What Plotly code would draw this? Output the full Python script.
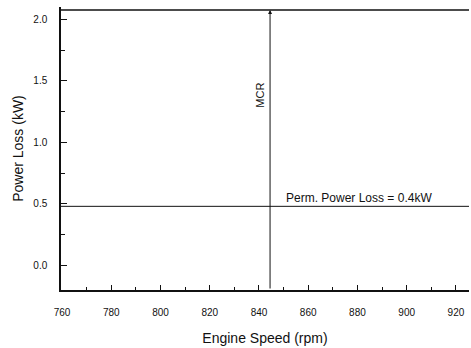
import plotly.graph_objects as go

# Data
speed_range = [759.6, 925.3]
power_range = [-0.2, 2.1]
x_ticks = [760, 780, 800, 820, 840, 860, 880, 900, 920]
y_ticks = [0.0, 0.5, 1.0, 1.5, 2.0]
y_tick_labels = ["0.0", "0.5", "1.0", "1.5", "2.0"]
perm_loss = 0.48
perm_label = "Perm. Power Loss = 0.4kW"
mcr_speed = 844.5
mcr_label = "MCR"
frame_top = 2.075

font = "Liberation Sans, Arial, sans-serif"
fig = go.Figure()
fig.add_trace(go.Scatter(x=speed_range, y=[perm_loss, perm_loss], mode="lines",
                         line=dict(color="#111", width=1), hoverinfo="skip", showlegend=False))
fig.add_trace(go.Scatter(x=speed_range, y=[frame_top, frame_top], mode="lines",
                         line=dict(color="#111", width=1.5), hoverinfo="skip", showlegend=False))

fig.add_annotation(x=mcr_speed, y=frame_top, ax=mcr_speed, ay=power_range[0],
                   xref="x", yref="y", axref="x", ayref="y", showarrow=True,
                   arrowhead=2, arrowsize=0.8, arrowwidth=1, arrowcolor="#111", text="")
fig.add_annotation(x=mcr_speed, y=1.38, xref="x", yref="y", text=mcr_label, showarrow=False,
                   textangle=-90, xanchor="right", xshift=-2, font=dict(size=11, color="#111", family=font))
fig.add_annotation(x=880.5, y=perm_loss, xref="x", yref="y", text=perm_label, showarrow=False,
                   yanchor="bottom", yshift=-1, font=dict(size=12, color="#111", family=font))

fig.update_layout(
    width=471, height=348, margin=dict(l=61, r=2, t=7, b=58),
    paper_bgcolor="white", plot_bgcolor="white",
    font=dict(family=font, color="#111"),
    xaxis=dict(range=speed_range, tickvals=x_ticks, ticks="inside", ticklen=5, tickcolor="#111",
               showline=True, linecolor="#111", linewidth=1.5, showgrid=False, zeroline=False,
               tickfont=dict(size=10), ticklabelstandoff=12,
               minor=dict(dtick=10, tick0=760, ticks="inside", ticklen=3, tickcolor="#111"),
               title=dict(text="Engine Speed (rpm)", font=dict(size=14), standoff=16)),
    yaxis=dict(range=power_range, tickvals=y_ticks, ticktext=y_tick_labels, ticks="inside", ticklen=6,
               tickcolor="#111", showline=True, linecolor="#111", linewidth=1.5, showgrid=False,
               zeroline=False, tickfont=dict(size=10), ticklabelstandoff=10,
               minor=dict(dtick=0.25, tick0=0, ticks="inside", ticklen=4, tickcolor="#111"),
               title=dict(text="Power Loss (kW)", font=dict(size=14), standoff=6)),
)
fig.write_html("out.html")
